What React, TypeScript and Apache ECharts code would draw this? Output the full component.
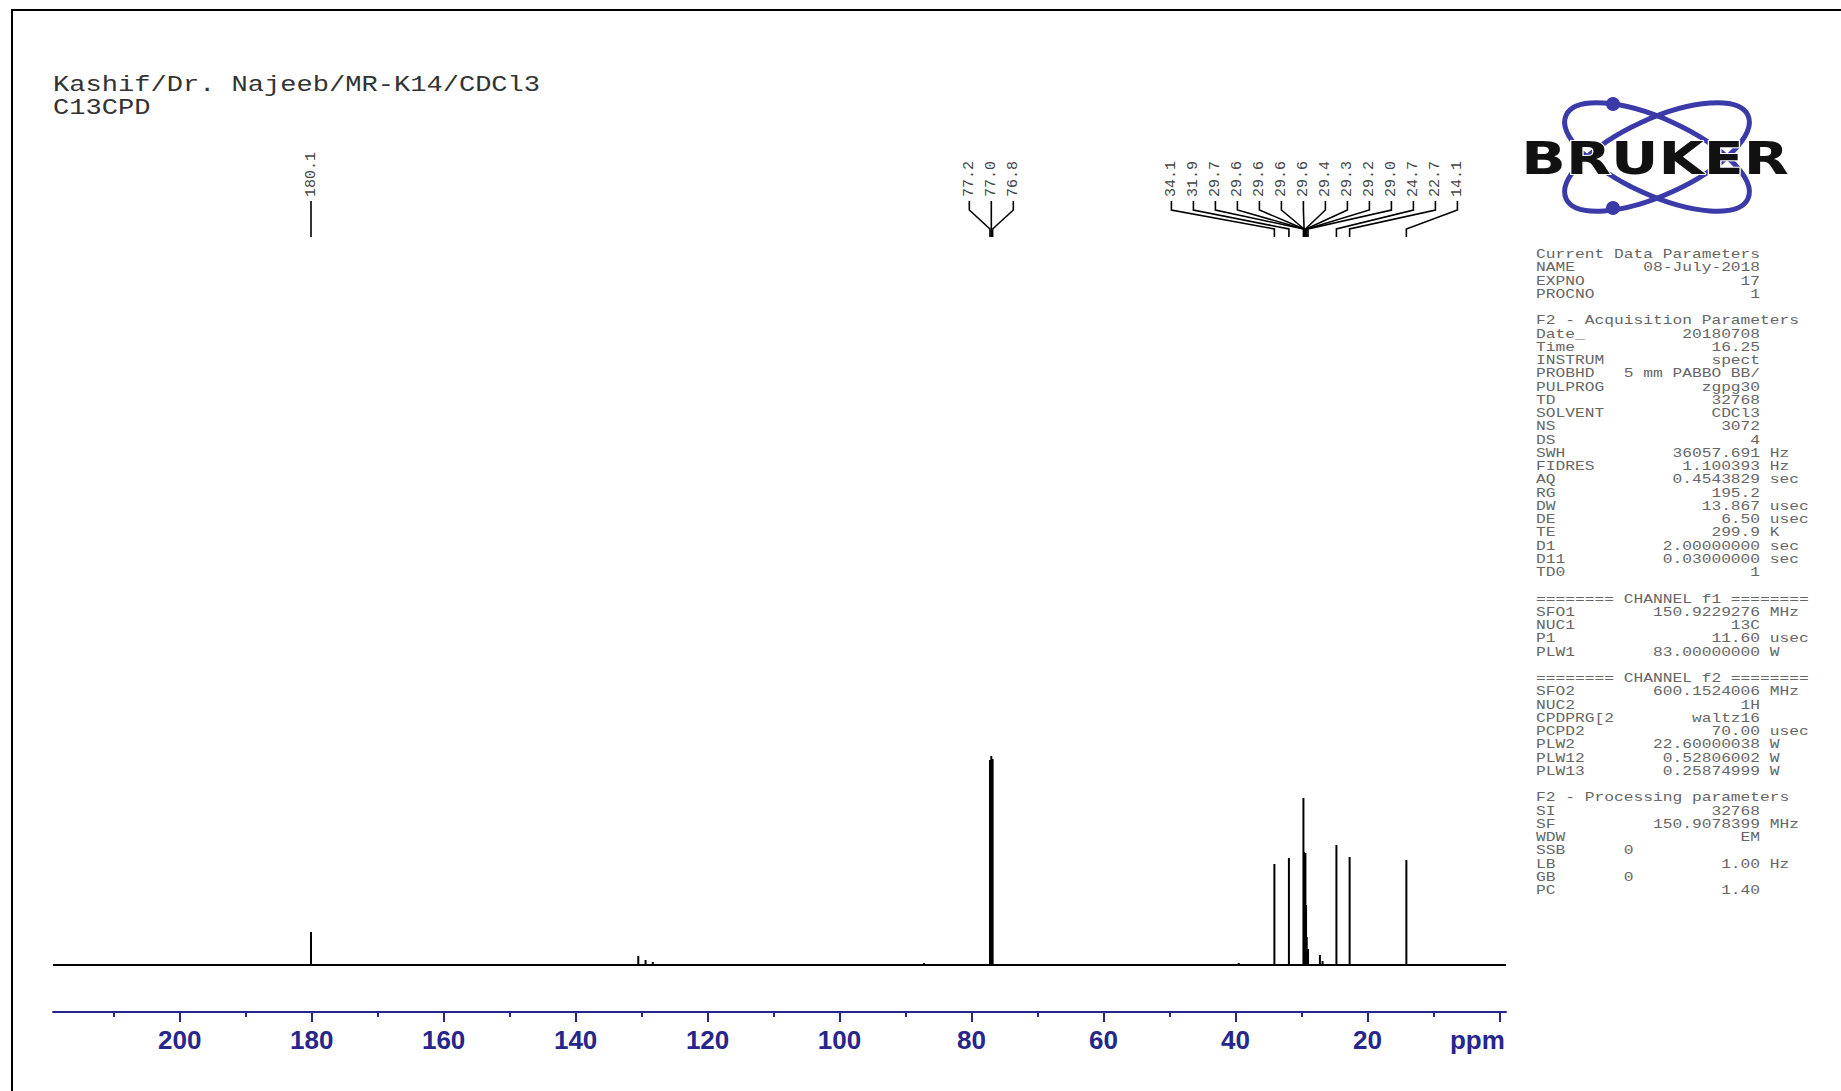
import React, { useEffect, useRef } from "react";
import * as echarts from "echarts";

// ---------- data ----------
const titleLines = ["Kashif/Dr. Najeeb/MR-K14/CDCl3", "C13CPD"];

// labelled peaks (ppm) and their heights (relative intensity)
const peakPpm = [180.1, 77.2, 77.0, 76.8, 34.1, 31.9, 29.7, 29.6, 29.6, 29.6, 29.6, 29.4, 29.3, 29.2, 29.0, 24.7, 22.7, 14.1];
const peakHeight = [33, 205, 209, 206, 101, 107, 167, 113, 110, 106, 102, 112, 60, 28, 16, 120, 108, 105];

// small unlabelled signals
const minorPpm = [130.5, 129.4, 128.3, 87.2, 39.5, 27.2, 26.8];
const minorHeight = [9, 5, 3, 2, 2, 10, 4];

const ppmMin = -1;
const ppmMax = 219.2;
const majorTicks = [0, 20, 40, 60, 80, 100, 120, 140, 160, 180, 200];
const minorTicks = [10, 30, 50, 70, 90, 110, 130, 150, 170, 190, 210];

type Row = [string, string, string?, boolean?];
const currentParams: Row[] = [
  ["NAME", "08-July-2018"],
  ["EXPNO", "17"],
  ["PROCNO", "1"],
];
const acqParams: Row[] = [
  ["Date_", "20180708"],
  ["Time", "16.25"],
  ["INSTRUM", "spect"],
  ["PROBHD", "5 mm PABBO BB/"],
  ["PULPROG", "zgpg30"],
  ["TD", "32768"],
  ["SOLVENT", "CDCl3"],
  ["NS", "3072"],
  ["DS", "4"],
  ["SWH", "36057.691", "Hz"],
  ["FIDRES", "1.100393", "Hz"],
  ["AQ", "0.4543829", "sec"],
  ["RG", "195.2"],
  ["DW", "13.867", "usec"],
  ["DE", "6.50", "usec"],
  ["TE", "299.9", "K"],
  ["D1", "2.00000000", "sec"],
  ["D11", "0.03000000", "sec"],
  ["TD0", "1"],
];
const channel1Params: Row[] = [
  ["SFO1", "150.9229276", "MHz"],
  ["NUC1", "13C"],
  ["P1", "11.60", "usec"],
  ["PLW1", "83.00000000", "W"],
];
const channel2Params: Row[] = [
  ["SFO2", "600.1524006", "MHz"],
  ["NUC2", "1H"],
  ["CPDPRG[2", "waltz16"],
  ["PCPD2", "70.00", "usec"],
  ["PLW2", "22.60000038", "W"],
  ["PLW12", "0.52806002", "W"],
  ["PLW13", "0.25874999", "W"],
];
const procParams: Row[] = [
  ["SI", "32768"],
  ["SF", "150.9078399", "MHz"],
  ["WDW", "EM"],
  ["SSB", "0", undefined, true],
  ["LB", "1.00", "Hz"],
  ["GB", "0", undefined, true],
  ["PC", "1.40"],
];

// ---------- helpers ----------
const fmtRow = (r: Row): string => {
  const [n, v, u, left] = r;
  if (left) return n.padEnd(9) + v;
  const width = Math.max(n.length + 1, 23 - v.length);
  return n.padEnd(width) + v + (u ? " " + u : "");
};

const paramText = [
  "Current Data Parameters",
  ...currentParams.map(fmtRow),
  "",
  "F2 - Acquisition Parameters",
  ...acqParams.map(fmtRow),
  "",
  "======== CHANNEL f1 ========",
  ...channel1Params.map(fmtRow),
  "",
  "======== CHANNEL f2 ========",
  ...channel2Params.map(fmtRow),
  "",
  "F2 - Processing parameters",
  ...procParams.map(fmtRow),
].join("\n");

const LABEL_GAP = 22;
function layoutLabels(xs: number[]): number[] {
  const order = xs.map((_, i) => i).sort((a, b) => xs[a] - xs[b]);
  let groups = order.map((i) => ({ idx: [i], center: xs[i] }));
  let changed = true;
  while (changed) {
    changed = false;
    for (let g = 0; g < groups.length - 1; g++) {
      const a = groups[g];
      const b = groups[g + 1];
      const aRight = a.center + ((a.idx.length - 1) / 2) * LABEL_GAP;
      const bLeft = b.center - ((b.idx.length - 1) / 2) * LABEL_GAP;
      if (bLeft - aRight < LABEL_GAP) {
        const idx = a.idx.concat(b.idx);
        const center = idx.reduce((s, i) => s + xs[i], 0) / idx.length;
        groups.splice(g, 2, { idx, center });
        changed = true;
        break;
      }
    }
  }
  const out: number[] = new Array(xs.length);
  groups.forEach((gr) =>
    gr.idx.forEach((i, k) => {
      out[i] = gr.center + (k - (gr.idx.length - 1) / 2) * LABEL_GAP;
    })
  );
  return out;
}

const NAVY = "#26268c";
const BLUE = "#3a3aa8";

export default function App() {
  const ref = useRef<HTMLDivElement>(null);

  useEffect(() => {
    if (!ref.current) return;
    const chart = echarts.init(ref.current, undefined, { renderer: "svg" });

    const spectrum = peakPpm
      .map((p, i) => [p, peakHeight[i]])
      .concat(minorPpm.map((p, i) => [p, minorHeight[i]]));

    const option: any = {
      animation: false,
      backgroundColor: "#ffffff",
      grid: { left: 53, right: 335, top: 745, bottom: 79, containLabel: false },
      xAxis: [
        {
          type: "value",
          inverse: true,
          min: ppmMin,
          max: ppmMax,
          position: "bottom",
          axisLine: { show: true, onZero: false, lineStyle: { color: NAVY, width: 2 } },
          axisTick: {
            show: true,
            customValues: majorTicks,
            length: 10,
            lineStyle: { color: NAVY, width: 2 },
          },
          axisLabel: {
            customValues: majorTicks,
            margin: 15,
            color: NAVY,
            fontSize: 26,
            fontWeight: "bold",
            fontFamily: "'Liberation Sans', Arial, sans-serif",
            formatter: (v: number) => (v === 0 ? "{u|ppm}" : String(v)),
            rich: {
              u: {
                padding: [0, 44, 0, 0],
                color: NAVY,
                fontSize: 26,
                fontWeight: "bold",
                fontFamily: "'Liberation Sans', Arial, sans-serif",
              },
            },
          },
          splitLine: { show: false },
        },
        {
          type: "value",
          inverse: true,
          min: ppmMin,
          max: ppmMax,
          position: "bottom",
          axisLine: { show: false, onZero: false },
          axisTick: {
            show: true,
            customValues: minorTicks,
            length: 5,
            lineStyle: { color: NAVY, width: 2 },
          },
          axisLabel: { show: false },
          splitLine: { show: false },
        },
      ],
      yAxis: { type: "value", min: -47, max: 220, show: false, splitLine: { show: false } },
      series: [
        {
          type: "line",
          xAxisIndex: 0,
          data: [
            [ppmMax, 0],
            [ppmMin, 0],
          ],
          symbol: "none",
          lineStyle: { color: "#000", width: 2 },
          silent: true,
          z: 2,
        },
        {
          type: "bar",
          xAxisIndex: 0,
          data: spectrum,
          barWidth: 2,
          itemStyle: { color: "#000" },
          silent: true,
          z: 3,
        },
        {
          type: "custom",
          xAxisIndex: 0,
          clip: false,
          silent: true,
          data: peakPpm.map((p) => [p, 0]),
          renderItem: (params: any, api: any) => {
            const xs = peakPpm.map((p) => api.coord([p, 0])[0]);
            const lx = layoutLabels(xs);
            const i = params.dataIndex;
            const px = xs[i];
            return {
              type: "group",
              children: [
                {
                  type: "polyline",
                  shape: {
                    points: [
                      [lx[i], 201],
                      [lx[i], 210],
                      [px, 229],
                      [px, 237],
                    ],
                  },
                  style: { stroke: "#000", lineWidth: 1.6, fill: "none" },
                },
                {
                  type: "text",
                  x: lx[i],
                  y: 197,
                  rotation: Math.PI / 2,
                  style: {
                    text: peakPpm[i].toFixed(1),
                    align: "left",
                    verticalAlign: "middle",
                    fontSize: 15,
                    fontFamily: "'Liberation Mono', monospace",
                    fill: "#444",
                  },
                },
              ],
            };
          },
        },
      ],
      graphic: [
        {
          type: "polyline",
          shape: {
            points: [
              [12, 1091],
              [12, 10],
              [1841, 10],
            ],
          },
          style: { stroke: "#000", lineWidth: 2, fill: "none" },
          silent: true,
        },
        {
          type: "text",
          x: 53,
          y: 73,
          scaleX: 1.23,
          style: {
            text: titleLines.join("\n"),
            align: "left",
            verticalAlign: "top",
            fontSize: 22,
            lineHeight: 23.5,
            fontFamily: "'Liberation Mono', monospace",
            fill: "#333",
          },
          silent: true,
        },
        {
          type: "ellipse",
          x: 1657,
          y: 157,
          rotation: -0.43,
          shape: { cx: 0, cy: 0, rx: 100, ry: 38 },
          style: { fill: "none", stroke: BLUE, lineWidth: 5 },
          silent: true,
        },
        {
          type: "ellipse",
          x: 1657,
          y: 157,
          rotation: 0.43,
          shape: { cx: 0, cy: 0, rx: 100, ry: 38 },
          style: { fill: "none", stroke: BLUE, lineWidth: 5 },
          silent: true,
        },
        {
          type: "circle",
          shape: { cx: 1613, cy: 104, r: 7 },
          style: { fill: BLUE },
          silent: true,
        },
        {
          type: "circle",
          shape: { cx: 1613, cy: 208, r: 7 },
          style: { fill: BLUE },
          silent: true,
        },
        {
          type: "text",
          x: 1655,
          y: 158,
          scaleX: 1.3,
          style: {
            text: "BRUKER",
            align: "center",
            verticalAlign: "middle",
            fontSize: 45,
            fontWeight: "bold",
            fontFamily: "'DejaVu Sans', sans-serif",
            fill: "#111",
            stroke: "#fff",
            lineWidth: 2,
          },
          silent: true,
        },
        {
          type: "text",
          x: 1536,
          y: 248,
          scaleX: 1.25,
          style: {
            text: paramText,
            align: "left",
            verticalAlign: "top",
            fontSize: 13,
            lineHeight: 13.25,
            fontFamily: "'Liberation Mono', monospace",
            fill: "#666",
          },
          silent: true,
        },
      ],
    };

    chart.setOption(option);
    return () => chart.dispose();
  }, []);

  return (
    <div
      ref={ref}
      style={{ position: "fixed", left: 0, top: 0, width: 1841, height: 1091, background: "#fff" }}
    />
  );
}
